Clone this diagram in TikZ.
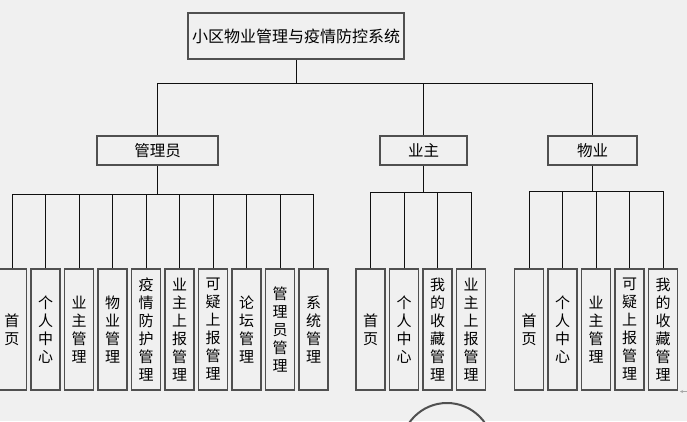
\documentclass[tikz,border=0pt]{standalone}
\usepackage{fontspec}
\usetikzlibrary{arrows.meta}
\newfontfamily\cjk{Noto Sans CJK SC}
\definecolor{bg}{HTML}{F0F0F0}
\definecolor{boxline}{HTML}{505050}
\definecolor{conn}{HTML}{101010}
\tikzset{
  box/.style={draw=boxline, line width=1.6pt, fill=bg, inner sep=0pt, text=black},
  topbox/.style={box, minimum width=216pt, minimum height=46pt, font=\cjk\fontsize{16}{18}\selectfont},
  midbox/.style={box, minimum height=29pt, font=\cjk\fontsize{15.5}{18}\selectfont},
  leaf/.style={box, minimum width=29pt, minimum height=121pt, align=center, font=\cjk\fontsize{15}{18}\selectfont},
  link/.style={draw=conn, line width=1pt}
}
\begin{document}
\begin{tikzpicture}[x=1pt,y=-1pt]
\useasboundingbox (0,0) rectangle (687,421);
\fill[bg] (0,0) rectangle (687,421);

% top
\node[topbox] (top) at (296,36) {小区物业管理与疫情防控系统};
% second level
\node[midbox, minimum width=121pt] (admin) at (157.5,150.5) {管理员};
\node[midbox, minimum width=87pt] (owner) at (423.5,150.5) {业主};
\node[midbox, minimum width=89pt] (wuye) at (592.5,150.5) {物业};

\coordinate (j0) at (296,83);
\coordinate (ja) at (157.5,194);
\coordinate (jo) at (423.5,192);
\coordinate (jw) at (592.5,191);

\draw[link] (top.south) -- (j0);
\draw[link] (admin.north) -- (admin.north |- j0) -- (wuye.north |- j0) -- (wuye.north);
\draw[link] (owner.north) -- (owner.north |- j0);

% admin leaves
\foreach \t [count=\i from 0] in {{首\\页},{个\\人\\中\\心},{业\\主\\管\\理},{物\\业\\管\\理},{疫\\情\\防\\护\\管\\理},{业\\主\\上\\报\\管\\理},{可\\疑\\上\\报\\管\\理},{论\\坛\\管\\理},{管\\理\\员\\管\\理},{系\\统\\管\\理}}{
  \node[leaf] (a\i) at ({12+33.5*\i},329.5) {\t};
  \draw[link] (a\i.north) -- (a\i.north |- ja);
}
\draw[link] (admin.south) -- (ja);
\draw[link] (a0.north |- ja) -- (a9.north |- ja);

% owner leaves
\foreach \t [count=\i from 0] in {{首\\页},{个\\人\\中\\心},{我\\的\\收\\藏\\管\\理},{业\\主\\上\\报\\管\\理}}{
  \node[leaf] (o\i) at ({370.5+33.5*\i},329.5) {\t};
  \draw[link] (o\i.north) -- (o\i.north |- jo);
}
\draw[link] (owner.south) -- (jo);
\draw[link] (o0.north |- jo) -- (o3.north |- jo);

% wuye leaves
\foreach \t [count=\i from 0] in {{首\\页},{个\\人\\中\\心},{业\\主\\管\\理},{可\\疑\\上\\报\\管\\理},{我\\的\\收\\藏\\管\\理}}{
  \node[leaf] (w\i) at ({529+33.5*\i},329.5) {\t};
  \draw[link] (w\i.north) -- (w\i.north |- jw);
}
\draw[link] (wuye.south) -- (jw);
\draw[link] (w0.north |- jw) -- (w4.north |- jw);

% partial circle at the bottom
\begin{scope}
\clip (0,0) rectangle (687,421);
\draw[draw=boxline, line width=2pt] (447,449) circle (46);
\end{scope}
% small mark at right edge
\coordinate (m1) at (687,391.5);
\coordinate (m2) at (680,391.5);
\draw[gray!70, line width=0.8pt, -{Stealth[length=3pt,width=3pt]}] (m1) -- (m2);
\end{tikzpicture}
\end{document}
